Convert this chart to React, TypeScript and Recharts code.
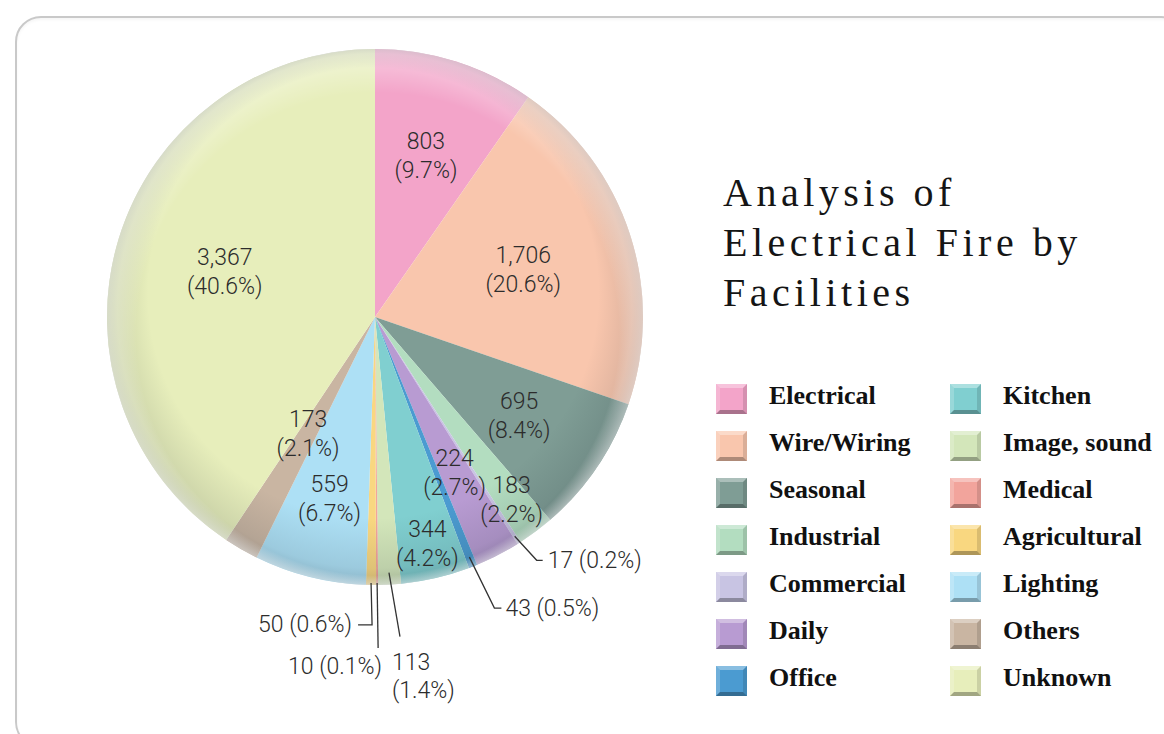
import { Legend, Pie, PieChart, Cell } from "recharts";

const categories = [
  "Electrical",
  "Wire/Wiring",
  "Seasonal",
  "Industrial",
  "Commercial",
  "Daily",
  "Office",
  "Kitchen",
  "Image, sound",
  "Medical",
  "Agricultural",
  "Lighting",
  "Others",
  "Unknown",
];
const counts = [803, 1706, 695, 183, 17, 224, 43, 344, 113, 10, 50, 559, 173, 3367];
const colors = [
  "#f3a4c9",
  "#f9c6ad",
  "#7f9d95",
  "#b3ddc0",
  "#c8c4e3",
  "#b89bd2",
  "#4b9bd1",
  "#80cfd0",
  "#d3e6ba",
  "#f2a49c",
  "#f9d780",
  "#ade0f5",
  "#c9b5a2",
  "#e7eebb",
];

// label placement: r = radius of text centre, or a leader line for thin slices
type Lay = {
  r: number;
  out?: boolean;
  ex?: number;
  ey?: number;
  hx?: number;
  anchor?: "start" | "end";
  tx?: number;
  ty?: number;
  split?: boolean;
};
const labelLayout: Lay[] = [
  { r: 170 },
  { r: 156 },
  { r: 174 },
  { r: 228 },
  { r: 260, out: true, ex: 22, ey: 24, hx: 6, anchor: "start", tx: 5, ty: 0 },
  { r: 174 },
  { r: 258, out: true, ex: 25, ey: 51, hx: 7, anchor: "start", tx: 4, ty: 0 },
  { r: 232 },
  { r: 256, out: true, ex: 11, ey: 64, hx: 0, anchor: "start", tx: -8, ty: 25, split: true },
  { r: 266, out: true, ex: 1, ey: 65, hx: 0, anchor: "end", tx: 4, ty: 19 },
  { r: 266, out: true, ex: 1, ey: 42, hx: -14, anchor: "end", tx: -6, ty: 0 },
  { r: 187 },
  { r: 134 },
  { r: 157 },
];

const total = counts.reduce((a, b) => a + b, 0);
const pieData = categories.map((name, i) => ({ name, value: counts[i] }));

const RAD = Math.PI / 180;
const labelFont = { fontFamily: "Roboto, 'Liberation Sans', sans-serif", fontSize: 23, fontWeight: 300, fill: "#2c2c2c" };

function renderLabel(props: any) {
  const { cx, cy, midAngle, index } = props;
  const lay = labelLayout[index];
  const v = counts[index];
  const num = v.toLocaleString("en-US");
  const pct = `(${((v / total) * 100).toFixed(1)}%)`;
  const x = cx + lay.r * Math.cos(-midAngle * RAD);
  const y = cy + lay.r * Math.sin(-midAngle * RAD);
  if (!lay.out) {
    return (
      <text key={`l${index}`} x={x} y={y} textAnchor="middle" style={labelFont}>
        <tspan x={x} dy={-6}>{num}</tspan>
        <tspan x={x} dy={29}>{pct}</tspan>
      </text>
    );
  }
  const ex = x + (lay.ex ?? 0);
  const ey = y + (lay.ey ?? 0);
  const hx = ex + (lay.hx ?? 0);
  const tx = hx + (lay.tx ?? 0);
  const ty = ey + (lay.ty ?? 0);
  return (
    <g key={`l${index}`}>
      <polyline points={`${x},${y} ${ex},${ey} ${hx},${ey}`} fill="none" stroke="#333" strokeWidth={1.3} />
      <text x={tx} y={ty} textAnchor={lay.anchor} dominantBaseline="central" style={labelFont}>
        {lay.split ? (
          <>
            <tspan x={tx} dy={0}>{num}</tspan>
            <tspan x={tx} dy={28}>{pct}</tspan>
          </>
        ) : (
          `${num} ${pct}`
        )}
      </text>
    </g>
  );
}

function Swatch({ color }: { color: string }) {
  return (
    <svg width={31} height={30} style={{ display: "block" }}>
      <rect x={0} y={0} width={31} height={30} fill={color} />
      <polygon points="0,0 31,0 27,4 4,4" fill="#fff" opacity={0.35} />
      <polygon points="0,0 4,4 4,26 0,30" fill="#fff" opacity={0.2} />
      <polygon points="31,0 31,30 27,26 27,4" fill="#000" opacity={0.12} />
      <polygon points="0,30 31,30 27,26 4,26" fill="#000" opacity={0.3} />
    </svg>
  );
}

function renderLegend() {
  const cols = [categories.slice(0, 7), categories.slice(7)];
  return (
    <div style={{ display: "flex" }}>
      {cols.map((col, c) => (
        <div key={c} style={{ width: 234 }}>
          {col.map((name) => (
            <div key={name} style={{ height: 47, display: "flex", alignItems: "center" }}>
              <Swatch color={colors[categories.indexOf(name)]} />
              <span
                style={{
                  marginLeft: 22,
                  position: "relative",
                  top: -3,
                  fontFamily: "'Liberation Serif', 'Times New Roman', serif",
                  fontWeight: 700,
                  fontSize: 26,
                  color: "#111",
                  whiteSpace: "nowrap",
                }}
              >
                {name}
              </span>
            </div>
          ))}
        </div>
      ))}
    </div>
  );
}

export default function App() {
  return (
    <div style={{ position: "absolute", left: 0, top: 0, width: 1164, height: 734, background: "#fff", overflow: "hidden" }}>
      <div
        style={{
          position: "absolute",
          left: 15,
          top: 16,
          width: 1172,
          height: 732,
          border: "2px solid #c9c9c9",
          borderRadius: 26,
          boxSizing: "border-box",
          boxShadow: "inset 0 2px 3px rgba(0,0,0,0.04)",
        }}
      />
      <div
        style={{
          position: "absolute",
          left: 723,
          top: 168,
          fontFamily: "'Liberation Serif', 'Times New Roman', serif",
          fontSize: 40,
          lineHeight: "50px",
          letterSpacing: 4.5,
          color: "#151515",
          whiteSpace: "nowrap",
        }}
      >
        Analysis of
        <br />
        Electrical Fire by
        <br />
        Facilities
      </div>
      <div style={{ position: "absolute", left: 0, top: 0 }}>
        <PieChart width={1164} height={734} margin={{ top: 0, right: 0, bottom: 0, left: 0 }}>
          <defs>
            <radialGradient id="rimDark" cx="50%" cy="50%" r="50%" fx="48%" fy="22%">
              <stop offset="0.84" stopColor="#1e2a33" stopOpacity={0} />
              <stop offset="0.96" stopColor="#1e2a33" stopOpacity={0.12} />
              <stop offset="1" stopColor="#1e2a33" stopOpacity={0.24} />
            </radialGradient>
            <radialGradient id="rimLight" cx="50%" cy="50%" r="50%" fx="55%" fy="82%">
              <stop offset="0.9" stopColor="#fff" stopOpacity={0} />
              <stop offset="1" stopColor="#fff" stopOpacity={0.45} />
            </radialGradient>
          </defs>
          <Pie
            data={pieData}
            dataKey="value"
            nameKey="name"
            cx={375}
            cy={317}
            outerRadius={268}
            startAngle={90}
            endAngle={-270}
            stroke="none"
            isAnimationActive={false}
            labelLine={false}
            label={renderLabel}
          >
            {pieData.map((d, i) => (
              <Cell key={d.name} fill={colors[i]} />
            ))}
          </Pie>
          <Pie
            data={[{ name: "rim", value: 1 }]}
            dataKey="value"
            cx={375}
            cy={317}
            outerRadius={268}
            fill="url(#rimDark)"
            stroke="none"
            legendType="none"
            isAnimationActive={false}
          />
          <Pie
            data={[{ name: "gloss", value: 1 }]}
            dataKey="value"
            cx={375}
            cy={317}
            outerRadius={268}
            fill="url(#rimLight)"
            stroke="none"
            legendType="none"
            isAnimationActive={false}
          />
          <Legend
            layout="vertical"
            align="right"
            verticalAlign="top"
            content={renderLegend}
            wrapperStyle={{ left: 716, top: 375, width: 468, right: "auto" }}
          />
        </PieChart>
      </div>
    </div>
  );
}
